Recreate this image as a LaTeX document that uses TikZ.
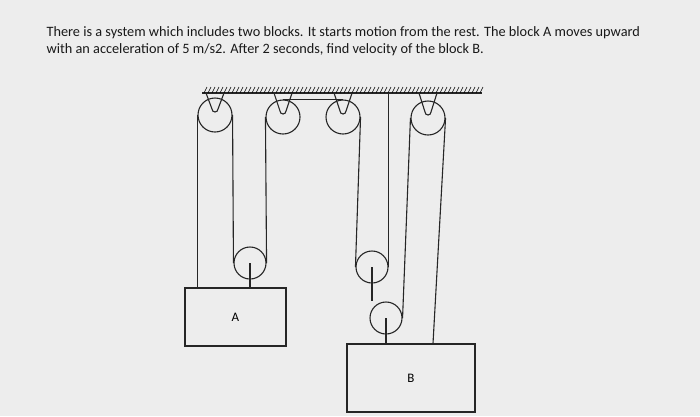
\documentclass[tikz,border=0pt]{standalone}
\usepackage{fontspec}
\setmainfont{Carlito}
\begin{document}
\begin{tikzpicture}[x=1pt,y=-1pt,line width=1.1pt,
  rope/.style={draw=black!85},
  pul/.style={circle,draw=black!85,minimum size=34pt,inner sep=0pt},
  spul/.style={circle,draw=black!85,minimum size=32pt,inner sep=0pt},
  blk/.style={draw=black!85,inner sep=0pt,font=\fontsize{13}{14}\selectfont},
  txt/.style={anchor=west,font=\fontsize{14.3}{16}\selectfont,inner sep=0pt,text=black!90}]
\fill[black!7] (0,0) rectangle (700,416);
\useasboundingbox (0,0) rectangle (700,416);
\node[txt] (t1) at (46,33) {There is a system which includes two blocks. It starts motion from the rest. The block A moves upward};
\node[txt] (t2) at (46,50) {with an acceleration of 5 m/s2. After 2 seconds, find velocity of the block B.};
% ceiling
\coordinate (cl) at (202,93); \coordinate (cr) at (482,93);
\draw[rope] (cl) -- (cr);
\foreach \x in {204,208,...,480} \draw[line width=0.6pt] (\x,93) -- (\x+3,87);
% pulleys
\node[pul] (p1) at (215,115) {};
\node[pul] (p2) at (283,117) {};
\node[pul] (p3) at (343,117) {};
\node[pul] (p4) at (428,118) {};
\foreach \p in {p1,p2,p3,p4}{
  \draw[rope] ([xshift=-9pt]\p.center |- cl) -- ([xshift=-3pt,yshift=6pt]\p.center) arc[start angle=180,end angle=360,radius=3pt] -- ([xshift=9pt]\p.center |- cl);}
\node[spul] (pa) at (250,263) {};
\node[spul] (pc) at (372,267) {};
\node[spul] (pd) at (386,318) {};
% blocks
\node[blk,minimum width=101pt,minimum height=58pt] (A) at (235.5,317) {A};
\node[blk,minimum width=128pt,minimum height=68pt] (B) at (411,378) {B};
% ropes
\draw[rope] (p1.west) -- (p1.west |- A.north);
\draw[rope] (p1.east) -- (pa.west);
\draw[rope] (pa.east) -- (p2.west);
\draw[rope] (p2.north) -- (p3.north);
\draw[rope] (pa.center) -- (pa.center |- A.north);
\draw[rope] (p3.east) -- (pc.west);
\coordinate (cc) at (pc.east |- cl);
\draw[rope] (pc.east) -- (cc);
\draw[rope] (pc.center) -- (pd.north -| pc.center);
\draw[rope] (pd.east) -- (p4.west);
\draw[rope] (pd.center) -- (pd.center |- B.north);
\draw[rope] (p4.east) -- ([xshift=22pt]B.north);
\end{tikzpicture}
\end{document}
